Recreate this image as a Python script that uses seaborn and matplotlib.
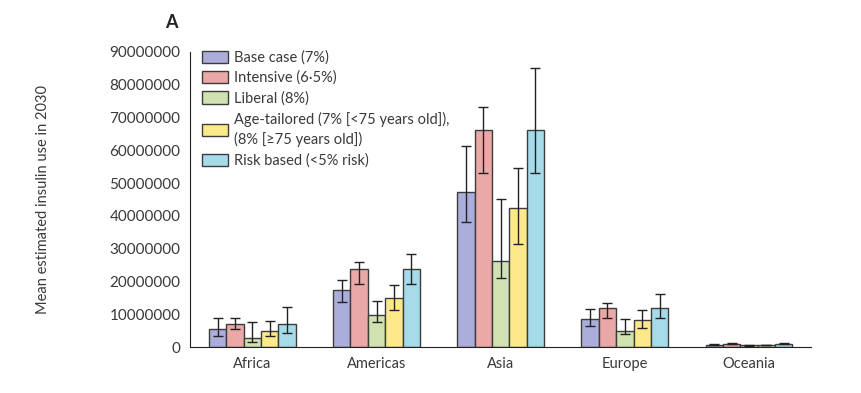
import matplotlib
matplotlib.use("Agg")
import matplotlib.pyplot as plt
from matplotlib.patches import Patch
from matplotlib.ticker import FixedLocator, StrMethodFormatter
import numpy as np
import pandas as pd
import seaborn as sns

# ------------------------------------------------------------------------------
# Data
# ------------------------------------------------------------------------------
regions = ["Africa", "Americas", "Asia", "Europe", "Oceania"]
scenarios = ["Base case (7%)", "Intensive (6·5%)", "Liberal (8%)",
             "Age-tailored (7% [<75 years old]),\n(8% [≥75 years old])",
             "Risk based (<5% risk)"]

base_case = [5.4e6, 17.4e6, 47.4e6, 8.6e6, 0.7e6]
intensive = [7.1e6, 23.9e6, 66.2e6, 11.9e6, 1.0e6]
liberal = [2.7e6, 9.8e6, 26.1e6, 4.8e6, 0.5e6]
age_tailored = [4.9e6, 15.1e6, 42.3e6, 8.1e6, 0.6e6]
risk_based = [7.1e6, 23.9e6, 66.2e6, 11.9e6, 1.0e6]

base_case_lo = [3.3e6, 13.8e6, 38.1e6, 6.4e6, 0.6e6]
base_case_hi = [8.7e6, 20.3e6, 61.3e6, 11.5e6, 0.8e6]
intensive_lo = [5.4e6, 19.3e6, 53.2e6, 8.9e6, 0.9e6]
intensive_hi = [9.0e6, 25.8e6, 73.3e6, 13.4e6, 1.1e6]
liberal_lo = [1.6e6, 7.5e6, 21.0e6, 3.9e6, 0.4e6]
liberal_hi = [7.5e6, 14.1e6, 45.1e6, 8.5e6, 0.6e6]
age_tailored_lo = [3.4e6, 11.3e6, 31.5e6, 5.7e6, 0.5e6]
age_tailored_hi = [7.8e6, 18.9e6, 54.5e6, 11.3e6, 0.7e6]
risk_based_lo = [4.3e6, 19.2e6, 53.2e6, 8.7e6, 0.9e6]
risk_based_hi = [12.2e6, 28.5e6, 85.1e6, 16.2e6, 1.2e6]

colors = ["#abaedb", "#eaa8a7", "#cfe2b0", "#fce98a", "#a6dbea"]

means = [base_case, intensive, liberal, age_tailored, risk_based]
lows = [base_case_lo, intensive_lo, liberal_lo, age_tailored_lo, risk_based_lo]
highs = [base_case_hi, intensive_hi, liberal_hi, age_tailored_hi, risk_based_hi]

df = pd.DataFrame({
    "region": np.tile(regions, len(scenarios)),
    "scenario": np.repeat(scenarios, len(regions)),
    "value": np.concatenate(means),
})

# ------------------------------------------------------------------------------
# Plot
# ------------------------------------------------------------------------------
sns.set_style("white")
plt.rcParams["font.family"] = ["Lato", "DejaVu Sans"]
text_color = "#3a3a3a"

fig = plt.figure(figsize=(8.61, 3.93), dpi=100)
ax = fig.add_axes([0.221, 0.117, 0.721, 0.751])

sns.barplot(data=df, x="region", y="value", hue="scenario",
            order=regions, hue_order=scenarios, palette=colors,
            saturation=1, width=0.7, gap=0, edgecolor="#3c3c3c",
            linewidth=1.0, errorbar=None, legend=False, ax=ax)

# asymmetric error bars placed on the bars seaborn drew
bar_containers = list(ax.containers)
for j, container in enumerate(bar_containers):
    xs = [b.get_x() + b.get_width() / 2 for b in container]
    m = np.array(means[j])
    yerr = [m - np.array(lows[j]), np.array(highs[j]) - m]
    ax.errorbar(xs, m, yerr=yerr, fmt="none", ecolor="#222222",
                elinewidth=1.0, capsize=3.5, capthick=1.0, zorder=5)

ax.set_xlim(-0.5, 4.5)
ax.set_ylim(0, 9e7)
ax.yaxis.set_major_locator(FixedLocator(np.arange(0, 9.1e7, 1e7)))
ax.yaxis.set_major_formatter(StrMethodFormatter("{x:.0f}"))

sns.despine(ax=ax)
ax.spines["left"].set_color("#222222")
ax.spines["bottom"].set_color("#222222")

ax.set_xticks(range(len(regions)))
ax.set_xticklabels(regions)
ax.set_xticks(np.arange(-0.5, 5.0, 1.0), minor=True)
ax.tick_params(axis="x", which="major", length=0, labelsize=10.5,
               labelcolor=text_color, pad=7)
ax.tick_params(axis="x", which="minor", direction="inout", length=8,
               width=1.0, color="#222222")
ax.tick_params(axis="y", direction="out", length=5, width=1.0,
               color="#222222", labelsize=11, labelcolor=text_color, pad=2)

ax.set_xlabel("")
ax.set_ylabel("Mean estimated insulin use in 2030", fontsize=10.5,
              color=text_color, labelpad=43)

handles = [Patch(facecolor=c, edgecolor="#3c3c3c", linewidth=1.0)
           for c in colors]
leg = ax.legend(handles, scenarios, loc="upper left",
                bbox_to_anchor=(0.005, 1.035), frameon=False, fontsize=10.5,
                handlelength=1.8, handleheight=0.9, handletextpad=0.4,
                labelspacing=0.42, borderaxespad=0.2,
                labelcolor=text_color)
for t in leg.get_texts():
    t.set_linespacing(1.45)

fig.text(0.192, 0.93, "A", fontsize=13, fontweight="bold", color="#222222")

fig.savefig("out.png", dpi=100)
